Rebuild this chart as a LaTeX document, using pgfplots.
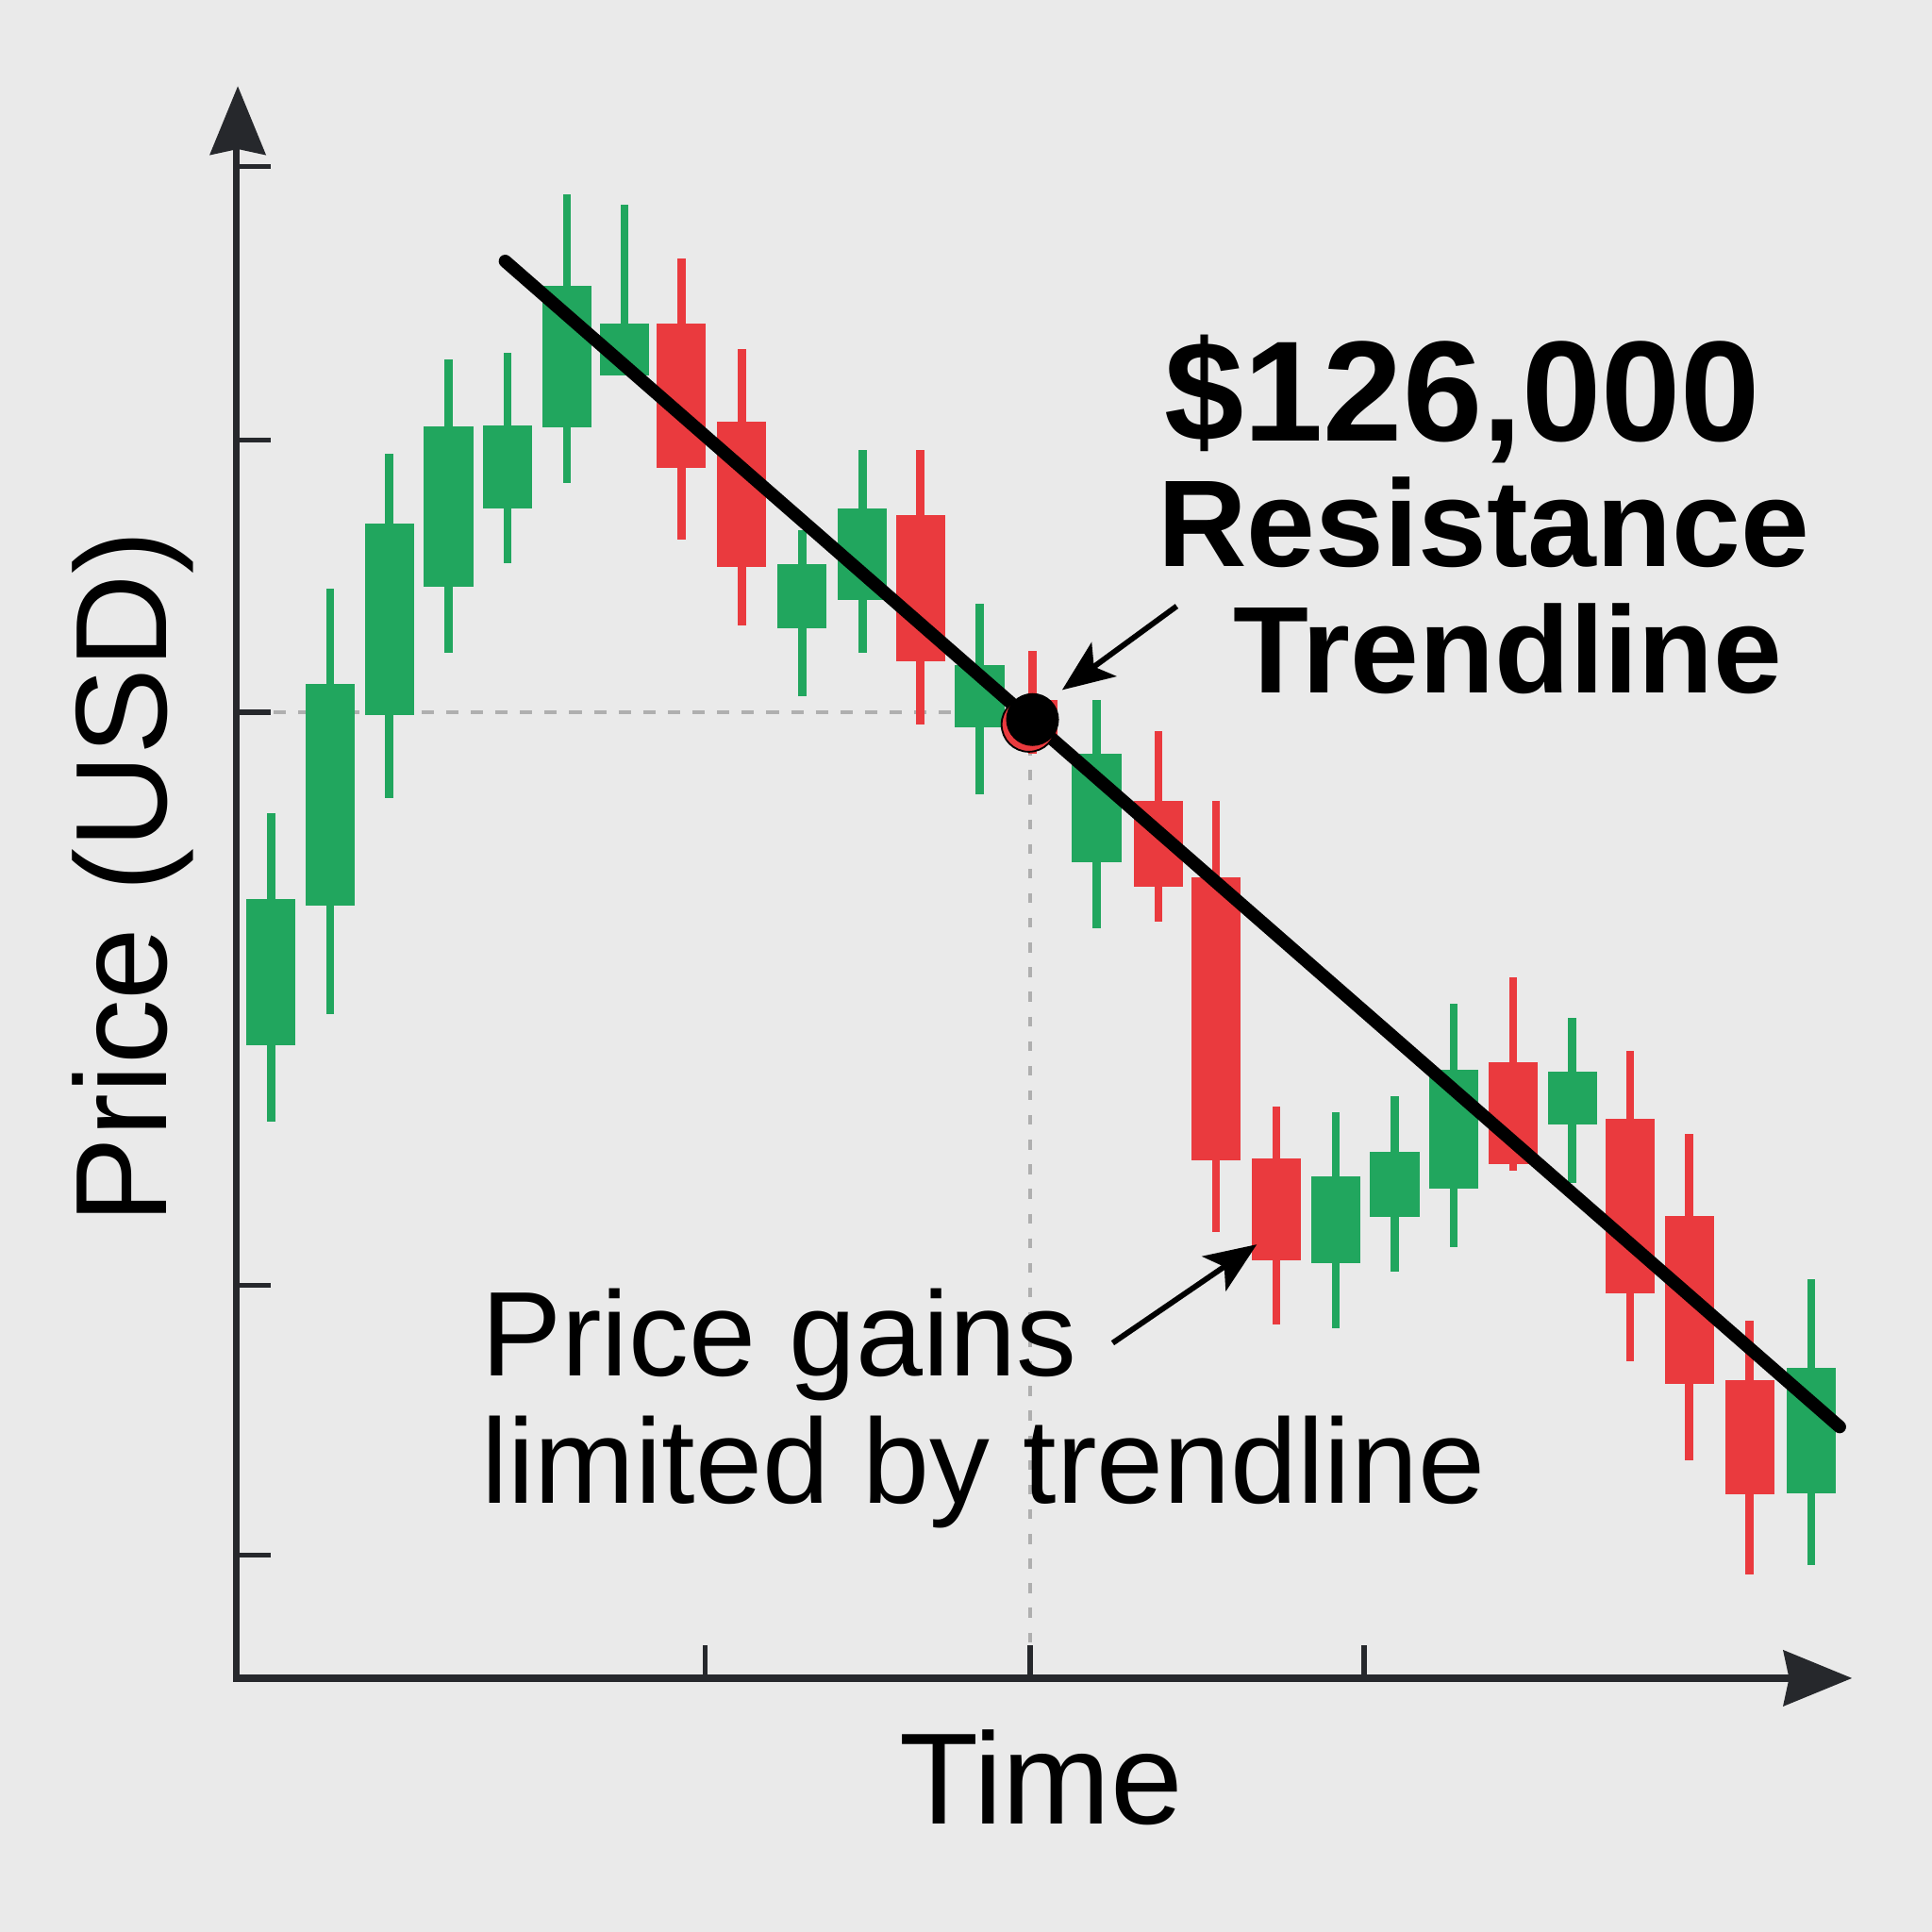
\documentclass[border=0pt]{standalone}
\usepackage{pgfplots}
\pgfplotsset{compat=1.18}
\usepackage{pgfplotstable}
\usepackage{fontspec}
\setmainfont{Liberation Sans}
\usetikzlibrary{arrows.meta}
\definecolor{cgreen}{RGB}{33,166,94}
\definecolor{cred}{RGB}{234,58,62}
\definecolor{bg}{RGB}{234,234,234}
\definecolor{axcol}{RGB}{38,40,44}
\definecolor{dashcol}{RGB}{175,175,175}

% x = time position, o/h/l/c = open, high, low, close (price units)
\pgfplotstableread{
x o h l c
220 720 908 658 838
268 833 1090 745 1013
316 988 1200 920 1143
364 1092 1276 1038 1222
412 1155 1282 1111 1223
460 1221 1410 1176 1336
507 1263 1402 1263 1305
651 1058 1138 1003 1110
700 1081 1203 1038 1155
795 978 1078 923 1028
890 868 1000 815 956
1084 543 665 490 613
1132 580 678 536 633
1180 603 753 556 700
1276 655 742 608 698
1470 356 530 298 458
}\greencandles

\pgfplotstableread{
x o h l c
553 1305 1358 1130 1188
602 1226 1285 1060 1108
747 1150 1203 980 1031
838 1000 1040 956 966
940 918 975 820 848
987 856 918 568 626
1036 628 670 493 545
1228 706 775 618 623
1323 660 715 463 518
1371 581 648 383 445
1420 448 496 290 355
}\redcandles

\begin{document}
\begin{tikzpicture}
\fill[bg] (0,0) rectangle (15.68cm,15.68cm);
\begin{axis}[at={(0,0)}, anchor=south west,
  width=15.68cm, height=15.68cm, scale only axis,
  xmin=0, xmax=1568, ymin=0, ymax=1568,
  hide axis, clip=false]

% guide lines
\draw[dashcol, line width=0.03cm, dash pattern=on 0.1cm off 0.1cm] (axis cs:222,990) -- (axis cs:836,990);
\draw[dashcol, line width=0.03cm, dash pattern=on 0.08cm off 0.12cm] (axis cs:836,963) -- (axis cs:836,234);

% wicks
\addplot[draw=none, mark=none, forget plot,
  error bars/.cd, y dir=both, y explicit, error mark=none,
  error bar style={line width=0.065cm, draw=cgreen}]
  table[x=x, y expr=(\thisrow{h}+\thisrow{l})/2, y error expr=(\thisrow{h}-\thisrow{l})/2] {\greencandles};
\addplot[draw=none, mark=none, forget plot,
  error bars/.cd, y dir=both, y explicit, error mark=none,
  error bar style={line width=0.065cm, draw=cred}]
  table[x=x, y expr=(\thisrow{h}+\thisrow{l})/2, y error expr=(\thisrow{h}-\thisrow{l})/2] {\redcandles};
% bodies
\addplot[draw=none, mark=none, forget plot,
  error bars/.cd, y dir=both, y explicit, error mark=none,
  error bar style={line width=0.4cm, draw=cgreen}]
  table[x=x, y expr=(\thisrow{o}+\thisrow{c})/2, y error expr=abs(\thisrow{c}-\thisrow{o})/2] {\greencandles};
\addplot[draw=none, mark=none, forget plot,
  error bars/.cd, y dir=both, y explicit, error mark=none,
  error bar style={line width=0.4cm, draw=cred}]
  table[x=x, y expr=(\thisrow{o}+\thisrow{c})/2, y error expr=abs(\thisrow{c}-\thisrow{o})/2] {\redcandles};

% resistance trendline
\addplot[black, line width=0.105cm, line cap=round, mark=none] coordinates {(410,1356) (1493,410)};
% touch point
\addplot[only marks, mark=*, mark size=6.3pt, mark options={fill=cred, draw=none}] coordinates {(835,980)};
\addplot[only marks, mark=*, mark size=5.9pt, mark options={fill=black, draw=none}] coordinates {(838,984)};

% axes
\draw[axcol, line width=0.055cm] (axis cs:192,203) -- (axis cs:192,1448);
\fill[axcol] (axis cs:193,1498) -- (axis cs:170,1442) -- (axis cs:193,1447) -- (axis cs:216,1442) -- cycle;
\draw[axcol, line width=0.055cm] (axis cs:190,206) -- (axis cs:1452,206);
\fill[axcol] (axis cs:1503,206) -- (axis cs:1447,229) -- (axis cs:1452,206) -- (axis cs:1447,183) -- cycle;
\draw[axcol, line width=0.04cm] (axis cs:192,1433) -- (axis cs:220,1433);
\draw[axcol, line width=0.04cm] (axis cs:192,1211) -- (axis cs:220,1211);
\draw[axcol, line width=0.04cm] (axis cs:192,990) -- (axis cs:220,990);
\draw[axcol, line width=0.04cm] (axis cs:192,525) -- (axis cs:220,525);
\draw[axcol, line width=0.04cm] (axis cs:192,306) -- (axis cs:220,306);
\draw[axcol, line width=0.04cm] (axis cs:572,206) -- (axis cs:572,233);
\draw[axcol, line width=0.04cm] (axis cs:836,206) -- (axis cs:836,233);
\draw[axcol, line width=0.04cm] (axis cs:1107,206) -- (axis cs:1107,233);

% labels
\node[rotate=90, anchor=base, font=\fontsize{30}{36}\selectfont] at (axis cs:135,856) {Price (USD)};
\node[anchor=base, font=\fontsize{30}{36}\selectfont] at (axis cs:845,88) {Time};

\node[anchor=base west, font=\fontsize{27.8}{33}\selectfont, inner sep=0pt] at (axis cs:390,451) {Price gains};
\node[anchor=base west, font=\fontsize{27.8}{33}\selectfont, inner sep=0pt] at (axis cs:390,348) {limited by trendline};

\node[anchor=base, font=\bfseries\fontsize{33}{39}\selectfont, inner sep=0pt] at (axis cs:1187,1210) {\$126,000};
\node[anchor=base, font=\bfseries\fontsize{28.5}{34}\selectfont, inner sep=0pt] at (axis cs:1204,1108) {Resistance};
\node[anchor=base, font=\bfseries\fontsize{28.5}{34}\selectfont, inner sep=0pt] at (axis cs:1224,1006) {Trendline};

% annotation arrows
\draw[black, line width=0.045cm, -{Stealth[length=0.42cm, width=0.34cm, inset=0.1cm]}] (axis cs:955,1076) -- (axis cs:862,1008);
\draw[black, line width=0.045cm, -{Stealth[length=0.42cm, width=0.34cm, inset=0.1cm]}] (axis cs:903,478) -- (axis cs:1020,558);
\end{axis}
\end{tikzpicture}
\end{document}
